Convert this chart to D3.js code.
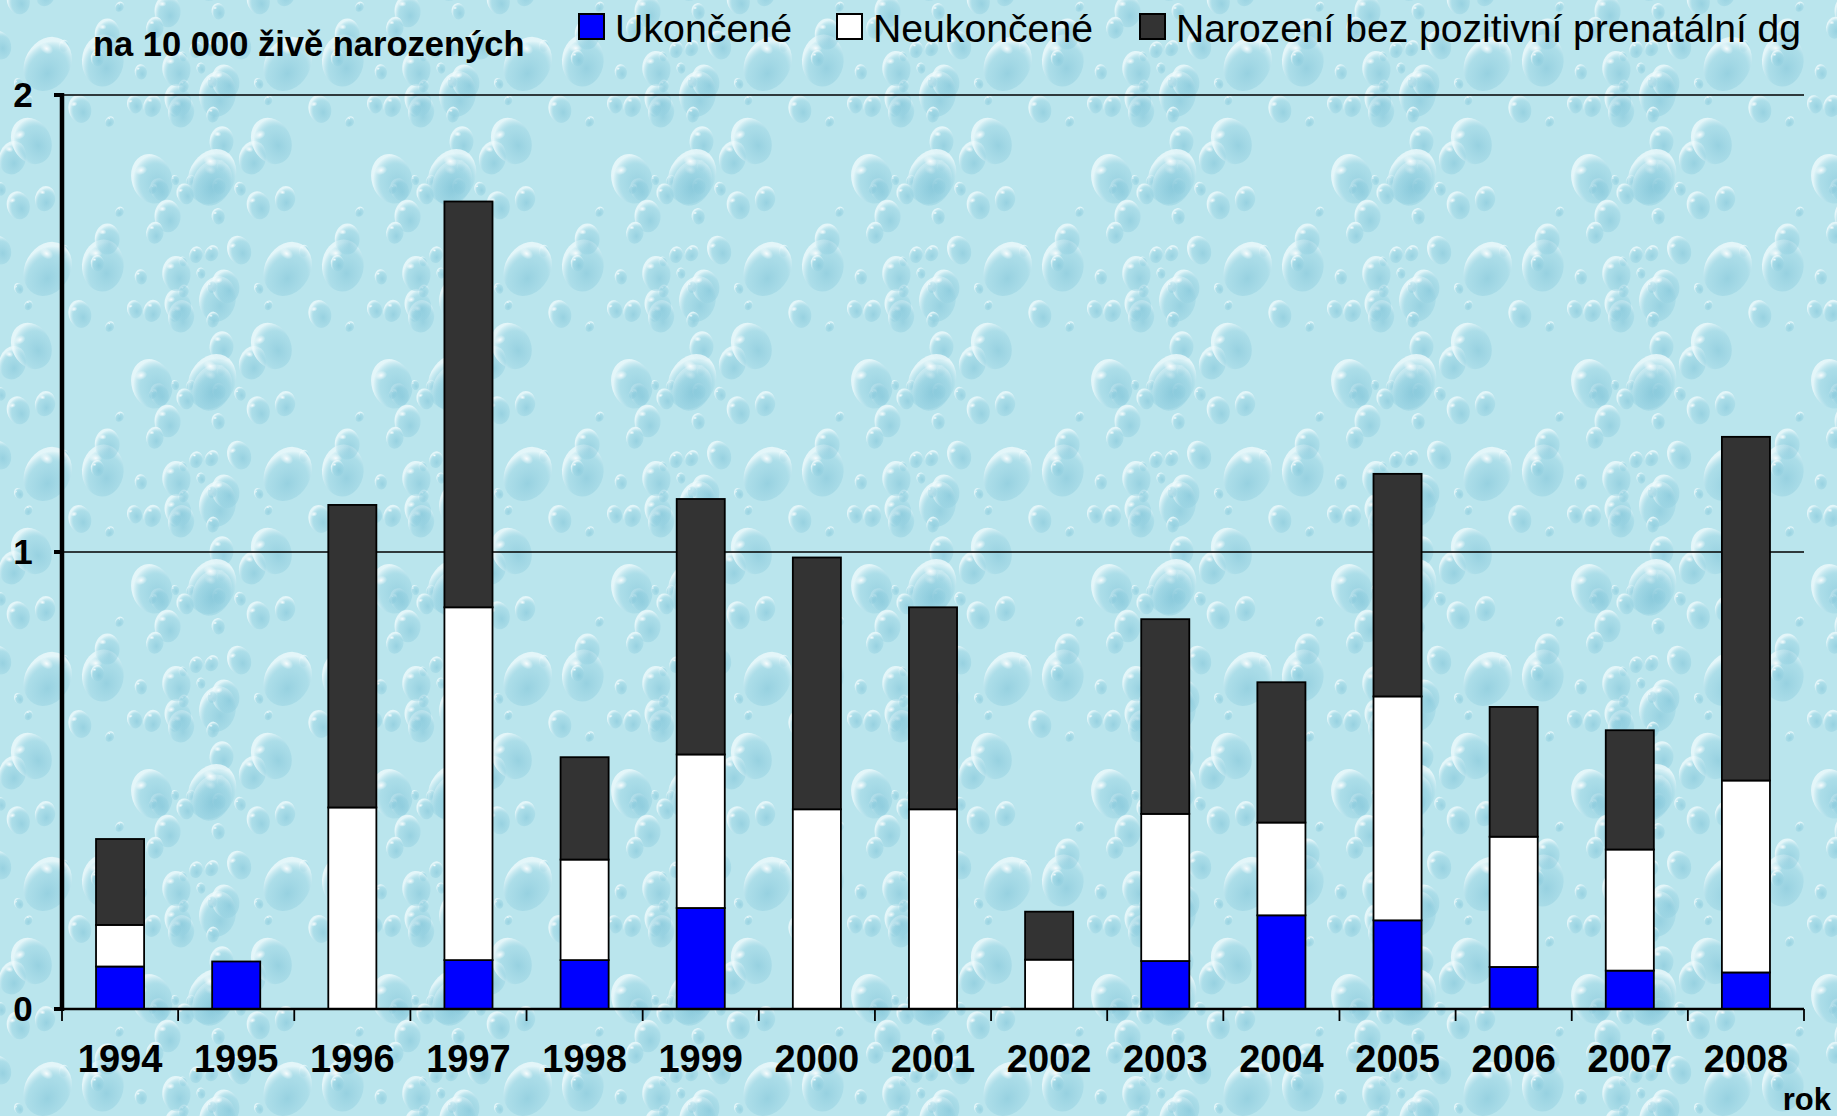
<!DOCTYPE html>
<html>
<head>
<meta charset="utf-8">
<script src="https://cdn.jsdelivr.net/npm/d3@7/dist/d3.min.js"></script>
<style>
  html, body { margin: 0; padding: 0; background: #b8e4ec; }
  svg { display: block; }
  text { font-family: "Liberation Sans", Arial, sans-serif; }
</style>
</head>
<body>
<svg id="chart" width="1837" height="1116"></svg>
<script>
// ---- data (values per 10 000 live births) ----
const years = ["1994","1995","1996","1997","1998","1999","2000","2001","2002","2003","2004","2005","2006","2007","2008"];
const ukoncene   = [0.093, 0.104, 0.000, 0.107, 0.107, 0.221, 0.000, 0.000, 0.000, 0.105, 0.205, 0.194, 0.092, 0.084, 0.080];
const neukoncene = [0.091, 0.000, 0.441, 0.772, 0.220, 0.336, 0.437, 0.437, 0.108, 0.322, 0.203, 0.490, 0.285, 0.265, 0.420];
const narozeni   = [0.188, 0.000, 0.662, 0.888, 0.224, 0.559, 0.551, 0.442, 0.105, 0.426, 0.307, 0.487, 0.284, 0.261, 0.752];
const seriesNames = ["Ukončené", "Neukončené", "Narození bez pozitivní prenatální dg"];
const seriesKeys = ["u", "n", "b"];
const seriesColors = ["#0000ff", "#ffffff", "#333333"];
const yTicks = [0, 1, 2];
const yTitle = "na 10 000 živě narozených";
const xTitle = "rok";

const W = 1837, H = 1116;
const svg = d3.select("#chart");
const defs = svg.append("defs");

// ---- decorative water-droplet background ----
const grad = defs.append("radialGradient").attr("id", "drop")
  .attr("cx", "60%").attr("cy", "65%").attr("r", "60%");
grad.append("stop").attr("offset", "0%").attr("stop-color", "#80c4d8").attr("stop-opacity", 0.6);
grad.append("stop").attr("offset", "70%").attr("stop-color", "#9ad4e3").attr("stop-opacity", 0.45);
grad.append("stop").attr("offset", "100%").attr("stop-color", "#eefafc").attr("stop-opacity", 0.8);
const hl = defs.append("radialGradient").attr("id", "hl");
hl.append("stop").attr("offset", "0%").attr("stop-color", "#ffffff").attr("stop-opacity", 0.9);
hl.append("stop").attr("offset", "100%").attr("stop-color", "#ffffff").attr("stop-opacity", 0);

const tileW = 240, tileH = 205;
const pat = defs.append("pattern").attr("id", "water")
  .attr("patternUnits", "userSpaceOnUse").attr("width", tileW).attr("height", tileH);
pat.append("rect").attr("width", tileW).attr("height", tileH).attr("fill", "#bae5ed");
let seed = 7;
function nextVal() { seed = (seed * 16807) % 2147483647; return seed / 2147483647; }
const drops = [];
for (let i = 0; i < 46; i++) {
  drops.push({x: nextVal() * tileW, y: nextVal() * tileH, r: 5 + Math.pow(nextVal(), 2) * 24, a: -30 + nextVal() * 60});
}
[-tileW, 0, tileW].forEach(dx => [-tileH, 0, tileH].forEach(dy => {
  drops.forEach(d => {
    const g = pat.append("g").attr("transform", `translate(${d.x + dx},${d.y + dy}) rotate(${d.a})`);
    g.append("ellipse").attr("rx", d.r * 0.8).attr("ry", d.r).attr("fill", "url(#drop)");
    g.append("ellipse").attr("cx", -d.r * 0.3).attr("cy", -d.r * 0.45).attr("rx", d.r * 0.25).attr("ry", d.r * 0.18)
      .attr("fill", "url(#hl)");
  });
}));
svg.append("rect").attr("width", W).attr("height", H).attr("fill", "url(#water)");

// ---- scales ----
const x0 = 62, x1 = 1804, yBase = 1009, yTop = 95;
const x = d3.scaleBand().domain(years).range([x0, x1]).paddingInner(0.586).paddingOuter(0.293);
const y = d3.scaleLinear().domain([0, 2]).range([yBase, yTop]);

const rows = years.map((yr, i) => ({year: yr, u: ukoncene[i], n: neukoncene[i], b: narozeni[i]}));
const stacked = d3.stack().keys(seriesKeys)(rows);

// ---- gridlines ----
svg.append("g").selectAll("line").data(yTicks.filter(t => t > 0)).join("line")
  .attr("x1", x0).attr("x2", x1).attr("y1", d => y(d)).attr("y2", d => y(d))
  .attr("stroke", "#000").attr("stroke-width", 1.6);

// ---- bars ----
stacked.forEach((layer, si) => {
  svg.append("g").selectAll("rect").data(layer.filter(d => d[1] - d[0] > 0)).join("rect")
    .attr("x", d => x(d.data.year))
    .attr("width", x.bandwidth())
    .attr("y", d => y(d[1]))
    .attr("height", d => y(d[0]) - y(d[1]))
    .attr("fill", seriesColors[si])
    .attr("stroke", "#000").attr("stroke-width", 1.8);
});

// ---- x axis ----
const boundaries = d3.range(years.length + 1).map(i => x0 + i * x.step());
svg.append("g").selectAll("line").data(boundaries).join("line")
  .attr("x1", d => d).attr("x2", d => d).attr("y1", yBase).attr("y2", yBase + 12)
  .attr("stroke", "#000").attr("stroke-width", 1.8);
svg.append("line").attr("x1", x0).attr("x2", x1).attr("y1", yBase).attr("y2", yBase)
  .attr("stroke", "#000").attr("stroke-width", 2.5);
svg.append("g").selectAll("text").data(years).join("text")
  .attr("x", d => x(d) + x.bandwidth() / 2).attr("y", 1072)
  .attr("text-anchor", "middle").attr("font-size", 38).attr("font-weight", "bold")
  .attr("fill", "#000").text(d => d);
svg.append("text").attr("x", 1831).attr("y", 1110).attr("text-anchor", "end")
  .attr("font-size", 31).attr("font-weight", "bold").text(xTitle);

// ---- y axis ----
svg.append("line").attr("x1", x0).attr("x2", x0).attr("y1", yTop - 2).attr("y2", yBase + 2)
  .attr("stroke", "#000").attr("stroke-width", 4.5);
svg.append("g").selectAll("line").data(yTicks).join("line")
  .attr("x1", x0 - 8).attr("x2", x0).attr("y1", d => y(d)).attr("y2", d => y(d))
  .attr("stroke", "#000").attr("stroke-width", 4);
svg.append("g").selectAll("text").data(yTicks).join("text")
  .attr("x", 23).attr("y", d => y(d) + 12)
  .attr("text-anchor", "middle").attr("font-size", 35).attr("font-weight", "bold")
  .text(d => d);
svg.append("text").attr("x", 93).attr("y", 56).attr("font-size", 34.5).attr("font-weight", "bold").text(yTitle);

// ---- legend ----
const legendX = [579, 837, 1140];
const legendLen = [177, 220, 625];
const leg = svg.append("g").selectAll("g").data(seriesNames).join("g")
  .attr("transform", (d, i) => `translate(${legendX[i]},14)`);
leg.append("rect").attr("width", 25).attr("height", 25)
  .attr("fill", (d, i) => seriesColors[i]).attr("stroke", "#000").attr("stroke-width", 2);
leg.append("text").attr("x", 36).attr("y", 28).attr("font-size", 38)
  .attr("textLength", (d, i) => legendLen[i]).attr("lengthAdjust", "spacingAndGlyphs")
  .text(d => d);
</script>
</body>
</html>
